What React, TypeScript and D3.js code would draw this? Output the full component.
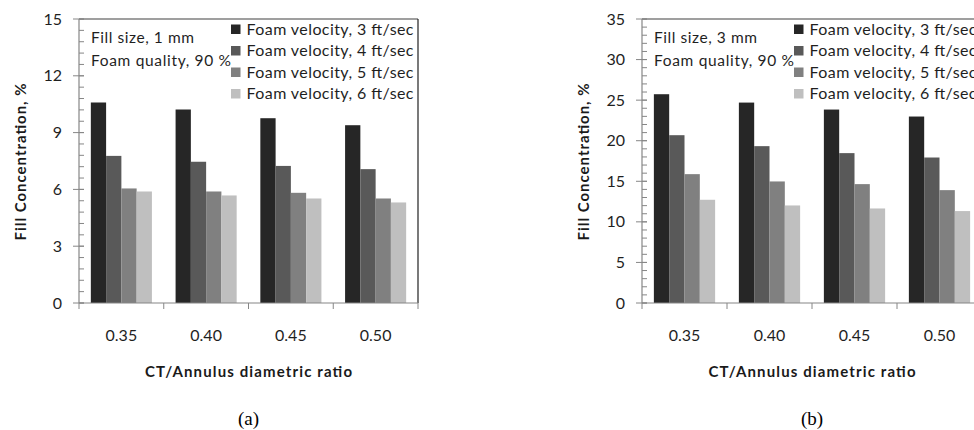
import React from "react";
import * as d3 from "d3";

const categories = ["0.35", "0.40", "0.45", "0.50"];
const seriesNames = [
  "Foam velocity, 3 ft/sec",
  "Foam velocity, 4 ft/sec",
  "Foam velocity, 5 ft/sec",
  "Foam velocity, 6 ft/sec",
];
const seriesColors = ["#262626", "#595959", "#808080", "#bfbfbf"];

// Panel (a): fill size 1 mm
const a3 = [10.59, 10.22, 9.76, 9.39];
const a4 = [7.77, 7.46, 7.24, 7.07];
const a5 = [6.05, 5.89, 5.82, 5.52];
const a6 = [5.89, 5.68, 5.52, 5.31];
const aTicks = [0, 3, 6, 9, 12, 15];

// Panel (b): fill size 3 mm
const b3 = [25.73, 24.7, 23.84, 22.98];
const b4 = [20.68, 19.33, 18.47, 17.93];
const b5 = [15.88, 14.98, 14.65, 13.91];
const b6 = [12.72, 12.02, 11.65, 11.33];
const bTicks = [0, 5, 10, 15, 20, 25, 30, 35];

const FONT = "Lato, 'Open Sans', sans-serif";

type PanelProps = {
  x0: number;
  x1: number;
  series: number[][];
  yMax: number;
  ticks: number[];
  minorStep: number;
  fillSize: string;
  caption: string;
  showRight: boolean;
};

function Panel({ x0, x1, series, yMax, ticks, minorStep, fillSize, caption, showRight }: PanelProps) {
  const top = 19;
  const bottom = 303;
  const y = d3.scaleLinear().domain([0, yMax]).range([bottom, top]);
  const xb = d3.scaleBand<string>().domain(categories).range([x0, x1]).paddingInner(0).paddingOuter(0);
  const bw = xb.bandwidth();
  const barW = bw / 5.55;
  const groupW = barW * 4;
  const inner = d3
    .scaleBand<number>()
    .domain([0, 1, 2, 3])
    .range([(bw - groupW) / 2, (bw + groupW) / 2])
    .padding(0);
  const minors = d3.range(0, yMax + 1e-9, minorStep);
  const cx = (x0 + x1) / 2;
  const axisColor = "#868686";
  const legendY0 = 29;
  const legendStep = 21.5;
  const legendX = x0 + 152;

  return (
    <g>
      {/* plot border top/right */}
      <line x1={x0} x2={x1} y1={top} y2={top} stroke="#404040" strokeWidth={1.2} />
      {showRight && <line x1={x1} x2={x1} y1={top} y2={bottom} stroke="#202020" strokeWidth={1.2} />}

      {/* bars */}
      {series.map((vals, si) =>
        vals.map((v, ci) => (
          <rect
            key={`${si}-${ci}`}
            x={(xb(categories[ci]) as number) + (inner(si) as number)}
            y={y(v)}
            width={inner.bandwidth()}
            height={bottom - y(v)}
            fill={seriesColors[si]}
          />
        ))
      )}

      {/* y axis */}
      <line x1={x0} x2={x0} y1={top} y2={bottom} stroke={axisColor} strokeWidth={1.2} />
      {minors.map((m, i) => (
        <line key={`m${i}`} x1={x0} x2={x0 + 5} y1={y(m)} y2={y(m)} stroke={axisColor} strokeWidth={1} />
      ))}
      {ticks.map((t) => (
        <g key={`t${t}`}>
          <line x1={x0 - 6} x2={x0 + 5} y1={y(t)} y2={y(t)} stroke={axisColor} strokeWidth={1} />
          <text
            x={x0 - 17}
            y={y(t)}
            dy="0.35em"
            textAnchor="end"
            fontFamily={FONT}
            fontSize={16}
            fill="#1f1f1f"
          >
            {t}
          </text>
        </g>
      ))}

      {/* x axis */}
      <line x1={x0} x2={x1} y1={bottom} y2={bottom} stroke={axisColor} strokeWidth={1.2} />
      {[...categories.map((c) => xb(c) as number), x1].map((tx, i) => (
        <line key={`xt${i}`} x1={tx} x2={tx} y1={bottom} y2={bottom + 6} stroke={axisColor} strokeWidth={1} />
      ))}
      {categories.map((c) => (
        <text
          key={`xl${c}`}
          x={(xb(c) as number) + bw / 2}
          y={335}
          dy="0.35em"
          textAnchor="middle"
          fontFamily={FONT}
          fontSize={16}
          fill="#1f1f1f"
        >
          {c}
        </text>
      ))}

      {/* axis titles */}
      <text
        x={cx}
        y={372}
        dy="0.35em"
        textAnchor="middle"
        fontFamily={FONT}
        fontWeight="bold"
        fontSize={15}
        textLength={207}
        lengthAdjust="spacing"
        fill="#1a1a1a"
      >
        CT/Annulus diametric ratio
      </text>
      <text
        transform={`translate(${x0 - 58},162) rotate(-90)`}
        textAnchor="middle"
        dy="0.35em"
        fontFamily={FONT}
        fontWeight="bold"
        fontSize={15}
        textLength={157}
        lengthAdjust="spacing"
        fill="#1a1a1a"
      >
        Fill Concentration, %
      </text>

      {/* annotations */}
      <text x={x0 + 12} y={38} dy="0.35em" fontFamily={FONT} fontSize={15.5} textLength={103} lengthAdjust="spacing" fill="#1f1f1f">
        {fillSize}
      </text>
      <text x={x0 + 12} y={61} dy="0.35em" fontFamily={FONT} fontSize={15.5} textLength={140} lengthAdjust="spacing" fill="#1f1f1f">
        Foam quality,  90 %
      </text>

      {/* legend */}
      {seriesNames.map((name, i) => (
        <g key={`lg${i}`}>
          <rect x={legendX} y={legendY0 + i * legendStep - 4.5} width={9.5} height={9.5} fill={seriesColors[i]} />
          <text
            x={legendX + 15.5}
            y={legendY0 + i * legendStep}
            dy="0.35em"
            fontFamily={FONT}
            fontSize={16}
            textLength={167}
            lengthAdjust="spacing"
            fill="#1f1f1f"
          >
            {name}
          </text>
        </g>
      ))}

      {/* caption */}
      <text
        x={cx}
        y={418}
        dy="0.35em"
        textAnchor="middle"
        fontFamily="'Liberation Serif', 'DejaVu Serif', serif"
        fontSize={19}
        fill="#000"
      >
        {caption}
      </text>
    </g>
  );
}

export default function App() {
  return (
    <svg
      width={974}
      height={430}
      style={{ position: "absolute", left: 0, top: 0, background: "#fff" }}
    >
      <rect x={0} y={0} width={974} height={430} fill="#fff" />
      <Panel
        x0={79}
        x1={418}
        series={[a3, a4, a5, a6]}
        yMax={15}
        ticks={aTicks}
        minorStep={0.6}
        fillSize="Fill size, 1 mm"
        caption="(a)"
        showRight={true}
      />
      <Panel
        x0={642}
        x1={982}
        series={[b3, b4, b5, b6]}
        yMax={35}
        ticks={bTicks}
        minorStep={1}
        fillSize="Fill size, 3 mm"
        caption="(b)"
        showRight={true}
      />
    </svg>
  );
}
